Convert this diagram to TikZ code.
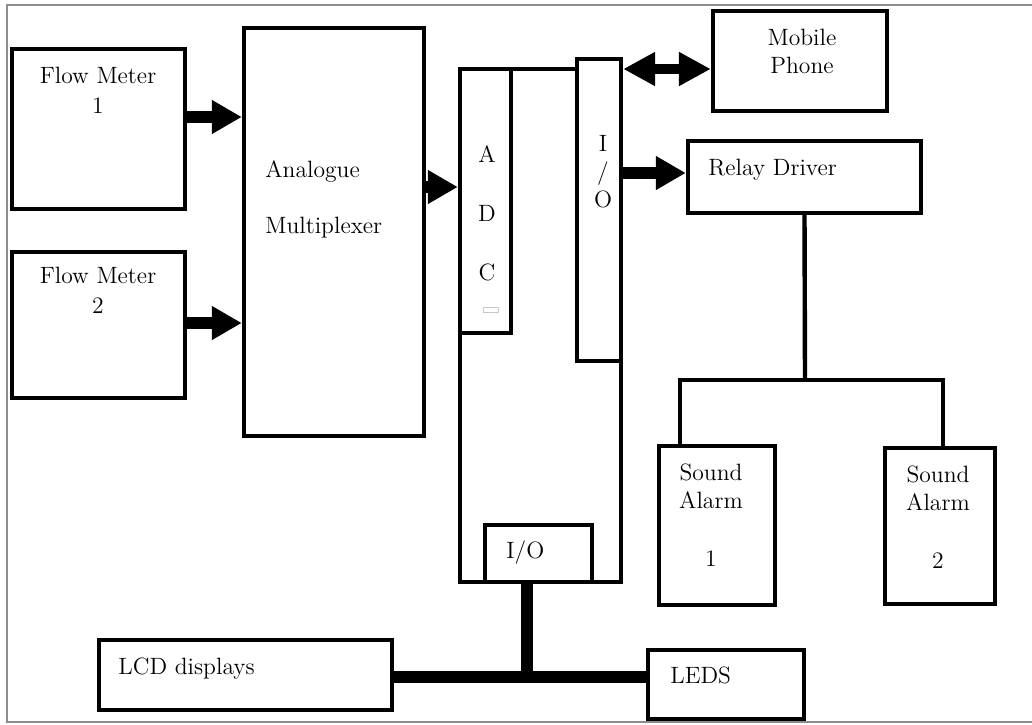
\documentclass[tikz,border=0pt]{standalone}
\usepackage{tikz}
\usetikzlibrary{arrows.meta}
\definecolor{FrameGray}{HTML}{8C8C8C}
\definecolor{SpeckGray}{HTML}{C8C8C8}

\begin{document}
\begin{tikzpicture}[x=0.5pt,y=-0.5pt,
  blk/.style={draw,line width=2.2pt,inner sep=0pt},
  lbl/.style={inner sep=0pt,align=center,font=\fontsize{11.8}{15}\selectfont},
  wire/.style={line width=2.2pt},
  fat/.style={line width=6pt,-{Triangle[length=15pt,width=16pt]}},
  dual/.style={line width=5pt,{Triangle[length=16pt,width=16pt]}-{Triangle[length=16pt,width=16pt]}},
  bus/.style={line width=5.8pt}]
  \useasboundingbox (0,0) rectangle (1032,724);
  \draw[FrameGray,line width=0.6pt] (1032,5) -- (7,5) -- (7,722) -- (1032,722);

  % blocks
  \node[blk,minimum width=86.5pt,minimum height=80pt] (fm1) at (98.5,129) {};
  \node[blk,minimum width=86.5pt,minimum height=73pt] (fm2) at (98.5,325) {};
  \node[blk,minimum width=90pt,minimum height=204pt] (mux) at (334,232) {};
  \node[blk,minimum width=25.5pt,minimum height=132pt] (adc) at (485.5,201) {};
  \node[blk,minimum width=22pt,minimum height=151pt] (ior) at (599,210) {};
  \node[blk,minimum width=53.5pt,minimum height=28.5pt] (iob) at (538.5,553.5) {};
  \node[blk,minimum width=87pt,minimum height=50pt] (mob) at (800,61) {};
  \node[blk,minimum width=116.5pt,minimum height=36pt] (rly) at (804.5,177) {};
  \node[blk,minimum width=58pt,minimum height=79.5pt] (al1) at (717,525.5) {};
  \node[blk,minimum width=55pt,minimum height=78pt] (al2) at (940,526) {};
  \node[blk,minimum width=146.5pt,minimum height=35pt] (lcd) at (245.5,675) {};
  \node[blk,minimum width=78pt,minimum height=34.5pt] (leds) at (726,684.5) {};

  % micro controller outline
  \draw[wire] (460,333) -- (460,582) -- (621,582) -- (621,361);
  \draw[SpeckGray,line width=0.4pt] (483,307) rectangle (498,312);

  % labels (base = last line)
  \node[lbl,anchor=base] (fm1t) at (98,113) {Flow Meter\\1};
  \node[lbl,anchor=base] (fm2t) at (98,313) {Flow Meter\\2};
  \node[lbl,anchor=base west,align=left,font=\fontsize{11.8}{28}\selectfont] (muxt) at (265,233) {Analogue\\Multiplexer};
  \node[lbl,anchor=base,font=\fontsize{11.8}{29.5}\selectfont] (adct) at (487,280) {A\\D\\C};
  \node[lbl,anchor=base,font=\fontsize{11.8}{14}\selectfont] (iort) at (603,207) {I\\/\\O};
  \node[lbl,anchor=base,font=\fontsize{11.8}{14}\selectfont] (mobt) at (802,73) {Mobile\\Phone};
  \node[lbl,anchor=base west] (rlyt) at (708,175) {Relay Driver};
  \node[lbl,anchor=base,font=\fontsize{11.8}{14}\selectfont] (al1t) at (711,566) {Sound\\Alarm\\[15pt]1};
  \node[lbl,anchor=base,font=\fontsize{11.8}{14}\selectfont] (al2t) at (938,568) {Sound\\Alarm\\[15pt]2};
  \node[lbl,anchor=base west] (iobt) at (506,558) {I/O};
  \node[lbl,anchor=base west] (lcdt) at (118,674) {LCD displays};
  \node[lbl,anchor=base west] (ledst) at (670,683) {LEDS};

  % connectors
  \coordinate (lv1) at (0,117);
  \coordinate (lv2) at (0,323);
  \coordinate (lv3) at (0,187);
  \coordinate (lv4) at (0,69);
  \coordinate (lv5) at (0,173);
  \coordinate (split) at (805,380);
  \coordinate (drop1) at (680,380);
  \coordinate (drop2) at (943,380);
  \coordinate (tee) at (527,677);
  \draw[fat] (fm1.east |- lv1) -- (mux.west |- lv1);
  \draw[fat] (fm2.east |- lv2) -- (mux.west |- lv2);
  \draw[fat] (mux.east |- lv3) -- (adc.west |- lv3);
  \draw[wire] (adc.east |- lv4) -- (ior.west |- lv4);
  \draw[dual] (ior.east |- lv4) -- (mob.west |- lv4);
  \draw[fat] (ior.east |- lv5) -- (rly.west |- lv5);
  \draw[wire] (rly.south) -- (split);
  \draw[wire] (al1.north -| drop1) -- (drop1) -- (drop2) -- (al2.north -| drop2);
  \draw[bus] (lcd.east |- tee) -- (leds.west |- tee);
  \draw[bus] (iob.south -| tee) -- (tee);
\end{tikzpicture}
\end{document}
